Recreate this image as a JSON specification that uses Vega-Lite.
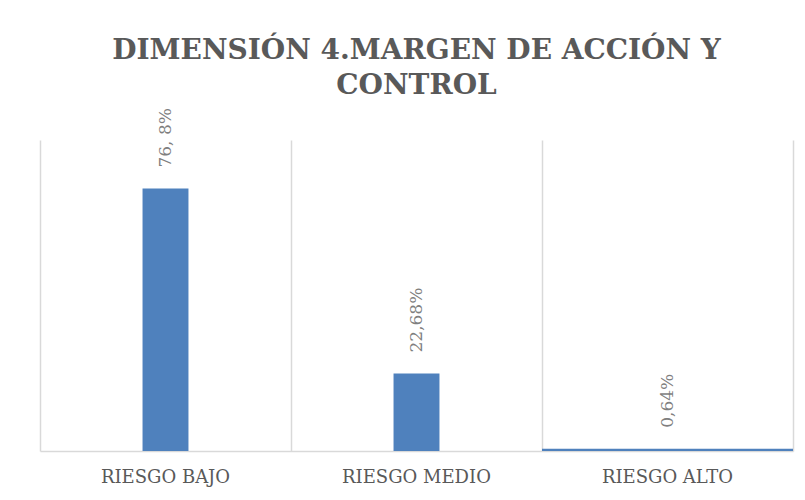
{
  "$schema": "https://vega.github.io/schema/vega-lite/v6.json",
  "autosize": "none",
  "width": 753,
  "height": 311,
  "padding": {"left": 40, "top": 140, "right": 12, "bottom": 49},
  "background": "white",
  "config": {"view": {"stroke": null}},
  "title": {
    "text": ["DIMENSIÓN 4.MARGEN DE ACCIÓN Y", "CONTROL"],
    "font": "DejaVu Serif",
    "fontSize": 28,
    "fontWeight": "bold",
    "color": "#595959",
    "lineHeight": 35,
    "anchor": "middle",
    "baseline": "alphabetic",
    "offset": -14
  },
  "data": {
    "values": [
      {"categoria": "RIESGO BAJO", "valor": 0.768, "etiqueta": "76, 8%"},
      {"categoria": "RIESGO MEDIO", "valor": 0.2268, "etiqueta": "22,68%"},
      {"categoria": "RIESGO ALTO", "valor": 0.0064, "etiqueta": "0,64%"}
    ]
  },
  "encoding": {
    "x": {
      "field": "categoria",
      "type": "nominal",
      "sort": null,
      "scale": {"paddingInner": 0, "paddingOuter": 0},
      "axis": {
        "title": null,
        "labelAngle": 0,
        "labelFont": "DejaVu Serif",
        "labelFontSize": 18,
        "labelColor": "#595959",
        "labelPadding": 17,
        "ticks": false,
        "domainColor": "#d9d9d9",
        "domainWidth": 1.5,
        "grid": true,
        "bandPosition": 0,
        "gridColor": "#d9d9d9",
        "gridWidth": 1.5
      }
    },
    "y": {
      "field": "valor",
      "type": "quantitative",
      "scale": {"domain": [0, 0.91]},
      "axis": {
        "orient": "right",
        "title": null,
        "labels": false,
        "ticks": false,
        "grid": false,
        "domain": true,
        "domainColor": "#d9d9d9",
        "domainWidth": 1.5
      }
    }
  },
  "layer": [
    {
      "transform": [{"filter": "datum.categoria != 'RIESGO ALTO'"}],
      "mark": {"type": "bar", "color": "#4f81bd", "width": {"band": 0.183}}
    },
    {
      "transform": [{"filter": "datum.categoria == 'RIESGO ALTO'"}],
      "mark": {"type": "bar", "color": "#4f81bd", "width": {"band": 1}}
    },
    {
      "mark": {
        "type": "text",
        "angle": 270,
        "align": "left",
        "baseline": "middle",
        "dx": 21,
        "font": "DejaVu Serif",
        "fontSize": 17,
        "color": "#7f7f7f"
      },
      "encoding": {"text": {"field": "etiqueta"}}
    }
  ]
}
